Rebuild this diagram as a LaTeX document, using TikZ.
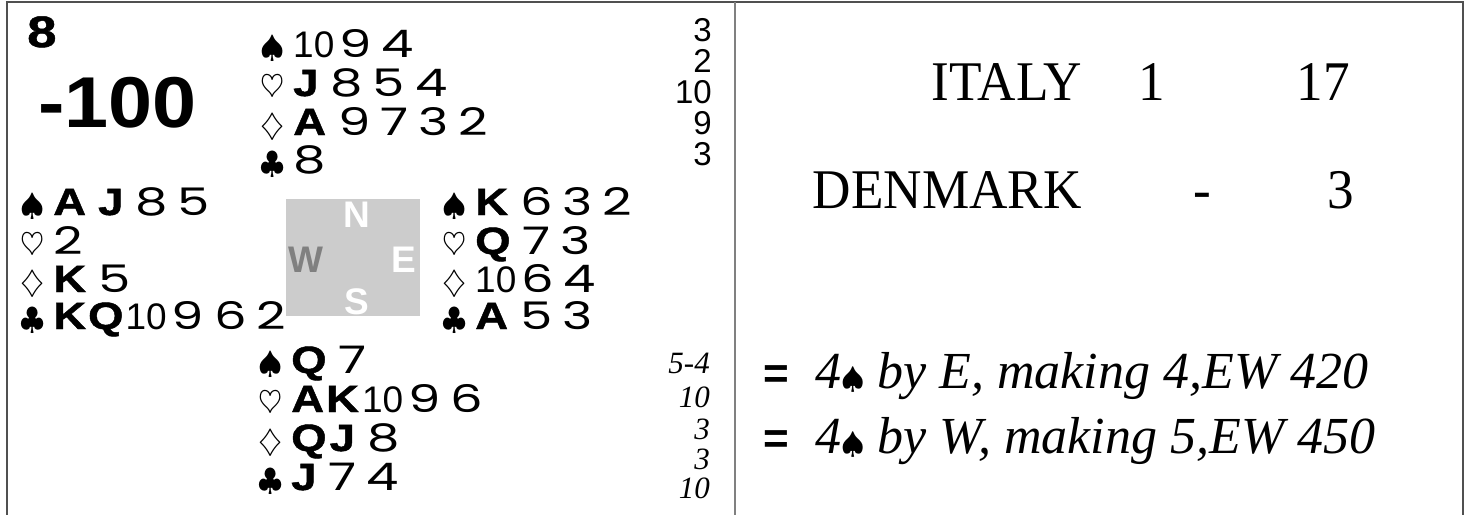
\documentclass[tikz,border=0pt]{standalone}
\usepackage{fontspec}
\usepackage{graphicx}
\newfontfamily\spotf[FakeStretch=1.35]{Poppins}
\newfontfamily\honf[FakeStretch=1.2,FakeBold=1.2]{Liberation Sans Bold}
\newfontfamily\bigf[FakeStretch=1.1]{Liberation Sans}
\newfontfamily\tenf{Liberation Sans}
\newfontfamily\helv{Liberation Sans}
\newfontfamily\serifc[FakeStretch=0.95]{Liberation Serif}
\newfontfamily\serifit{Liberation Serif}
\definecolor{framec}{HTML}{505050}
\definecolor{divc}{HTML}{808080}
\definecolor{boxc}{HTML}{CCCCCC}
\definecolor{wc}{HTML}{808080}
\newcommand\Su[1]{\makebox[33pt][l]{\scalebox{3.1}{\normalsize$#1$}}}
\newcommand\Hf{\honf\fontsize{38}{38}\selectfont}
\newcommand\Hn[1]{{\Hf #1}\hspace{12pt}}
\newcommand\HH[2]{{\Hf #1\hspace{3pt}#2}\hspace{12pt}}
\newcommand\Sp[1]{{\spotf\fontsize{38}{38}\selectfont #1}\hspace{10pt}}
\newcommand\Tn{{\tenf\fontsize{37}{38}\selectfont 10}\hspace{5pt}}
\newcommand\spd{\scalebox{3.0}{\normalsize$\spadesuit$}}
\tikzset{
  handtxt/.style={anchor=base west,inner sep=0pt,font=\fontsize{35}{38}\selectfont},
  colnum/.style={anchor=base east,inner sep=0pt,font=\helv\fontsize{33}{33}\selectfont},
  tricknum/.style={anchor=base east,inner sep=0pt,font=\serifit\itshape\fontsize{31}{31}\selectfont},
  compass/.style={anchor=center,inner sep=0pt,font=\helv\bfseries\fontsize{37}{37}\selectfont,text=white},
  score/.style={inner sep=0pt,font=\serifc\fontsize{56}{56}\selectfont},
  contract/.style={anchor=base west,inner sep=0pt,font=\serifit\itshape\fontsize{52}{52}\selectfont},
  eqsign/.style={anchor=base west,inner sep=0pt,font=\helv\bfseries\fontsize{44}{44}\selectfont},
  framel/.style={draw=framec,line width=2.5pt},
  divl/.style={draw=divc,line width=2.5pt}
}
\begin{document}
\begin{tikzpicture}[x=1pt,y=-1pt]
\useasboundingbox (0,0) rectangle (1469,515);
\fill[white] (0,0) rectangle (1469,515);
% frame
\draw[framel] (5.75,2) -- (1464.25,2);
\draw[framel] (7,2) -- (7,515);
\draw[framel] (1463,2) -- (1463,515);
\draw[divl] (735,2) -- (735,515);
% board number and score
\node[anchor=base west,inner sep=0pt,font=\honf\fontsize{44}{44}\selectfont] (board) at (27,47) {8};
\node[anchor=base west,inner sep=0pt,font=\bigf\bfseries\fontsize{72}{72}\selectfont] (res) at (38,127) {-100};
% North
\node[handtxt] (n1) at (260,57) {\Su\spadesuit\Tn\Sp9\Sp4};
\node[handtxt] (n2) at (260,96) {\Su\heartsuit\Hn J\Sp8\Sp5\Sp4};
\node[handtxt] (n3) at (260,135) {\Su\diamondsuit\Hn A\Sp9\Sp7\Sp3\Sp2};
\node[handtxt] (n4) at (260,173) {\Su\clubsuit\Sp8};
% West
\node[handtxt] (w1) at (20,215) {\Su\spadesuit\Hn A\Hn J\Sp8\Sp5};
\node[handtxt] (w2) at (20,254) {\Su\heartsuit\Sp2};
\node[handtxt] (w3) at (20,292) {\Su\diamondsuit\Hn K\Sp5};
\node[handtxt] (w4) at (20,329) {\Su\clubsuit{\Hf K\hspace{2pt}Q}\hspace{2pt}\Tn\Sp9\Sp6\Sp2};
% East
\node[handtxt] (e1) at (442,215) {\Su\spadesuit\Hn K\Sp6\Sp3\Sp2};
\node[handtxt] (e2) at (442,254) {\Su\heartsuit\Hn Q\Sp7\Sp3};
\node[handtxt] (e3) at (442,292) {\Su\diamondsuit\Tn\Sp6\Sp4};
\node[handtxt] (e4) at (442,329) {\Su\clubsuit\Hn A\Sp5\Sp3};
% South
\node[handtxt] (s1) at (258,373) {\Su\spadesuit\Hn Q\Sp7};
\node[handtxt] (s2) at (258,412) {\Su\heartsuit{\Hf A\hspace{2pt}K}\hspace{3pt}\Tn\Sp9\Sp6};
\node[handtxt] (s3) at (258,451) {\Su\diamondsuit\HH QJ\Sp8};
\node[handtxt] (s4) at (258,490) {\Su\clubsuit\Hn J\Sp7\Sp4};
% compass
\node[fill=boxc,minimum width=134pt,minimum height=117pt,inner sep=0pt] (box) at (353,257.5) {};
\node[compass] (cn) at (357,214.5) {N};
\node[compass,text=wc] (cw) at (306,260) {W};
\node[compass] (ce) at (404,260) {E};
\node[compass] (cs) at (357,302) {S};
% north column
\node[colnum] (c1) at (712,41) {3};
\node[colnum] (c2) at (712,72) {2};
\node[colnum] (c3) at (712,103) {10};
\node[colnum] (c4) at (712,134) {9};
\node[colnum] (c5) at (712,165) {3};
% south tricks
\node[tricknum] (t1) at (710,373) {5-4};
\node[tricknum] (t2) at (710,407) {10};
\node[tricknum] (t3) at (710,439) {3};
\node[tricknum] (t4) at (710,469) {3};
\node[tricknum] (t5) at (710,498) {10};
% scores
\node[score,anchor=base east] (it) at (1082,100) {ITALY};
\node[score,anchor=base] (it1) at (1152,100) {1};
\node[score,anchor=base east] (it2) at (1350,100) {17};
\node[score,anchor=base east] (dk) at (1082,208) {DENMARK};
\node[score,anchor=base] (dk1) at (1202,208) {-};
\node[score,anchor=base east] (dk2) at (1354,208) {3};
% contracts
\node[eqsign] (eq1) at (763,388) {=};
\node[contract] (k1) at (815,388) {4\spd\ by E, making 4,EW 420};
\node[eqsign] (eq2) at (763,453) {=};
\node[contract] (k2) at (815,453) {4\spd\ by W, making 5,EW 450};
\end{tikzpicture}
\end{document}
